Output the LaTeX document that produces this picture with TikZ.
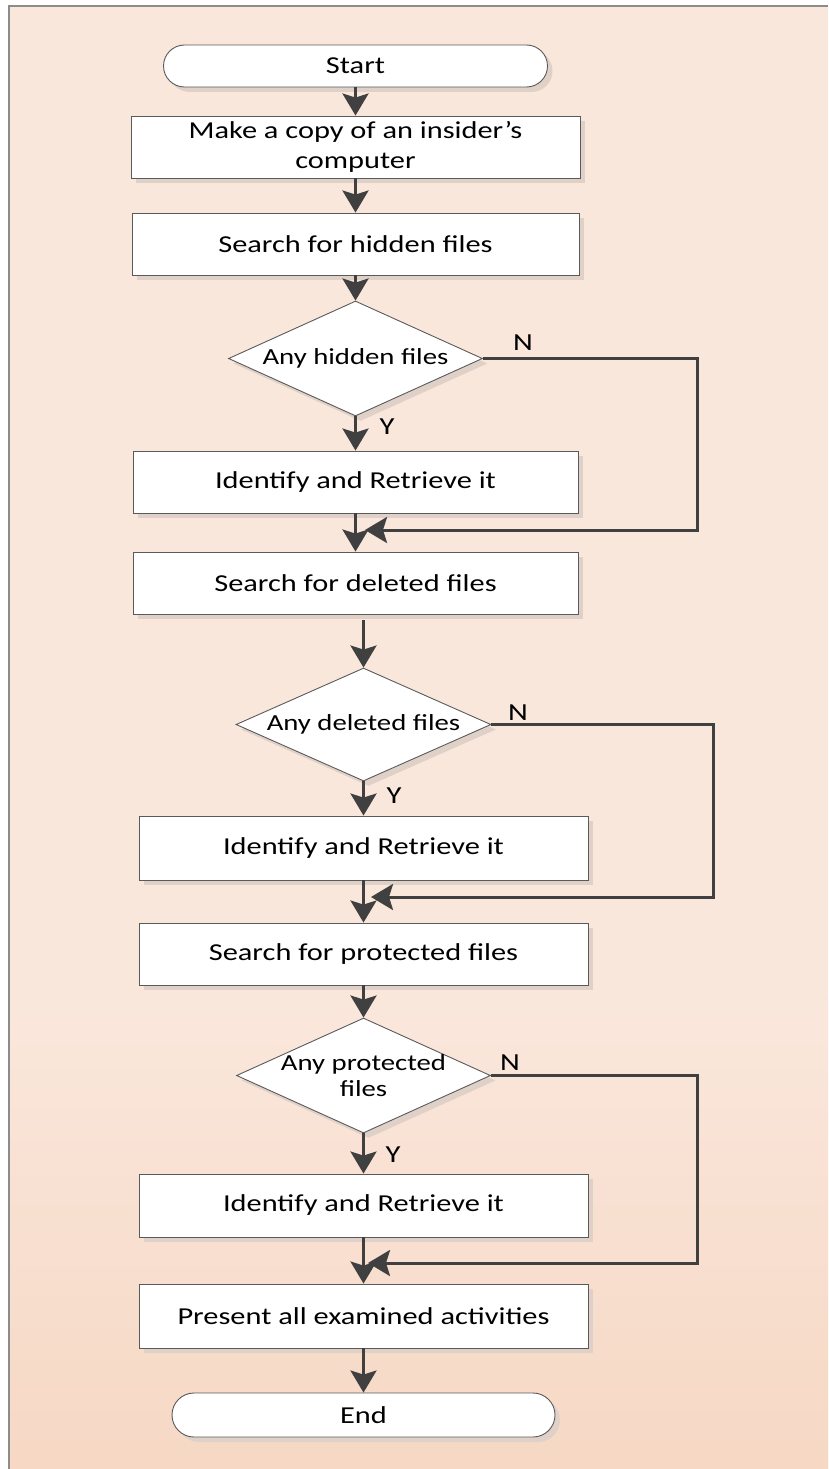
\documentclass[tikz,border=0pt]{standalone}
\usepackage{fontspec}
\setmainfont[FakeStretch=1.25]{Carlito}
\usetikzlibrary{shapes.geometric,arrows.meta,shadows}
\definecolor{paper}{HTML}{FAE7DC}
\definecolor{paperlow}{HTML}{F6D8C4}
\definecolor{edge}{HTML}{5A5A5A}
\definecolor{flow}{HTML}{404040}
\definecolor{shadecol}{HTML}{DFD1C8}
\definecolor{frameline}{HTML}{8C8C8C}

\begin{document}
\begin{tikzpicture}[x=1pt,y=-1pt,
  base/.style={draw=edge, line width=0.9pt, fill=white,
    general shadow={fill=shadecol, shadow xshift=5pt, shadow yshift=-5pt},
    inner sep=0pt, font=\fontsize{24.3}{28.5}\selectfont, align=center},
  terminal/.style={base, rectangle, rounded corners=21pt, minimum width=384pt, minimum height=42pt},
  process/.style={base, rectangle, minimum width=447pt, minimum height=62pt},
  decision/.style={base, diamond, minimum width=254pt, minimum height=115pt},
  question/.style={font=\fontsize{23}{26}\selectfont, align=center, inner sep=0pt},
  flowline/.style={draw=flow, line width=3pt,
    -{Stealth[length=22pt,width=26pt,inset=4pt]}},
  branch/.style={font=\fontsize{24.5}{26}\selectfont, inner sep=0pt}
]
\useasboundingbox (0,0) rectangle (828,1469);

% page background with the lower gradient
\fill[paper] (9,6) rectangle (828,1000);
\shade[top color=paper, bottom color=paperlow] (9,999) rectangle (828,1469);
\draw[frameline, line width=1.2pt] (9,1469) -- (9,6) -- (828,6);

% upper column
\node[terminal] (start) at (355.5,66) {Start};
\node[process, minimum width=449pt] (copy) at (355.5,147) {Make a copy of an insider’s\\[1pt]computer};
\node[process] (shid) at (355.5,244) {Search for hidden files};
\node[decision] (d1) at (355.5,358.5) {};
\node[question] (q1) at (d1) {Any hidden files};
\node[process, minimum width=445pt] (id1) at (355.5,482) {Identify and Retrieve it};
\node[process, minimum width=445pt] (sdel) at (355.5,583) {Search for deleted files};

% lower column
\node[decision, minimum width=255pt, minimum height=113pt] (d2) at (363.5,724.5) {};
\node[question] (q2) at (d2) {Any deleted files};
\node[process, minimum width=449pt, minimum height=64pt] (id2) at (363.5,848) {Identify and Retrieve it};
\node[process, minimum width=449pt] (sprot) at (363.5,954) {Search for protected files};
\node[decision] (d3) at (363.5,1075.5) {};
\node[question] (q3) at (d3) {Any protected\\files};
\node[process, minimum width=449pt, minimum height=63pt] (id3) at (363.5,1205.5) {Identify and Retrieve it};
\node[process, minimum width=449pt, minimum height=64pt] (pres) at (363.5,1316) {Present all examined activities};
\node[terminal, minimum width=383pt, minimum height=44pt, rounded corners=22pt] (stop) at (363.5,1415) {End};

% branch labels
\node[branch] (n1) at (523,343) {N};
\node[branch] (y1) at (387,427) {Y};
\node[branch] (n2) at (518,713) {N};
\node[branch] (y2) at (394,796) {Y};
\node[branch] (n3) at (510,1063) {N};
\node[branch] (y3) at (393,1155) {Y};

% main flow
\draw[flowline] (start) -- (copy);
\draw[flowline] (copy) -- (shid);
\draw[flowline] (shid) -- (d1);
\draw[flowline] (d1) -- (id1);
\draw[flowline] (id1) -- (sdel);
\draw[flowline, shorten <=6pt] (sdel.south -| d2.north) -- (d2.north);
\draw[flowline] (d2) -- (id2);
\draw[flowline] (id2) -- (sprot);
\draw[flowline] (sprot) -- (d3);
\draw[flowline] (d3) -- (id3);
\draw[flowline] (id3) -- (pres);
\draw[flowline] (pres) -- (stop);

% "N" bypass loops
\coordinate (c1) at (697,530);
\coordinate (t1) at (365,530);
\draw[flowline] (d1.east) -| (c1) -- (t1);
\coordinate (c2) at (713,897);
\coordinate (t2) at (371,897);
\draw[flowline] (d2.east) -| (c2) -- (t2);
\coordinate (c3) at (697,1263);
\coordinate (t3) at (368,1263);
\draw[flowline] (d3.east) -| (c3) -- (t3);
\end{tikzpicture}
\end{document}
